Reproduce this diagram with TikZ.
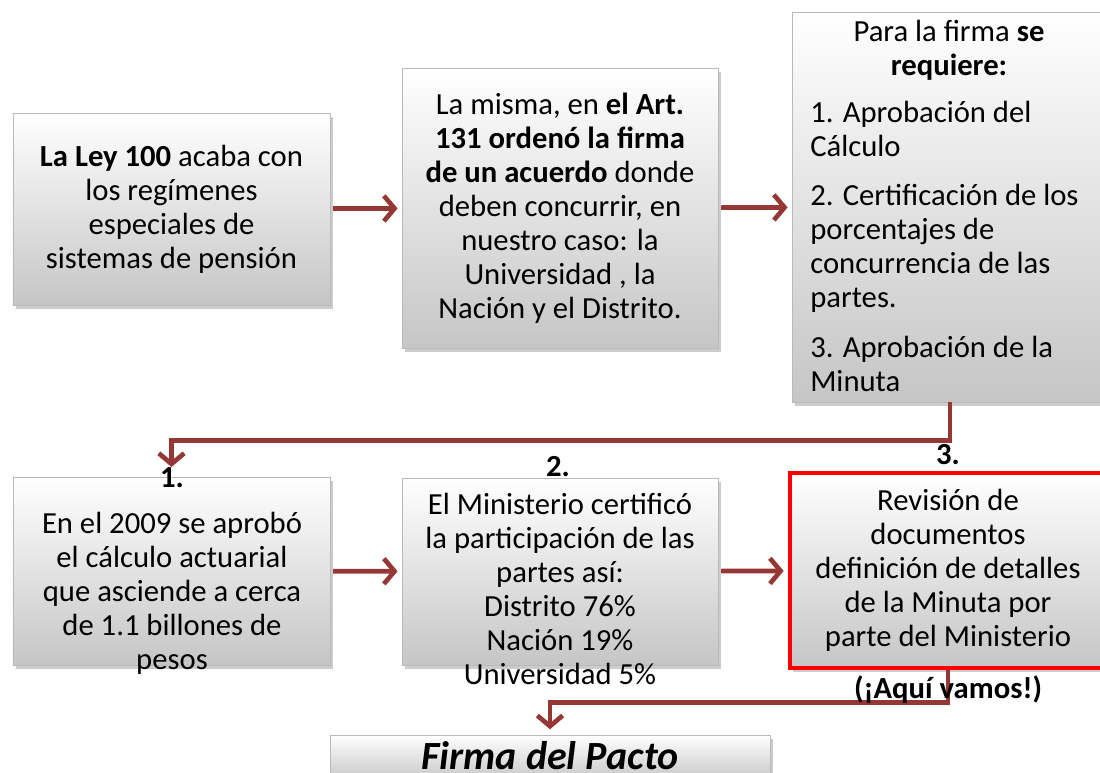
\documentclass[tikz,border=0pt]{standalone}
\usepackage{fontspec}
\setmainfont{Carlito}
\usetikzlibrary{arrows.meta,shadows}
\definecolor{flecha}{HTML}{953735}

\begin{document}
\begin{tikzpicture}[x=0.75pt, y=-0.75pt,
  caja/.style={draw=gray!55, line width=0.6pt, top color=white, bottom color=gray!45,
    drop shadow={opacity=0.4, shadow xshift=2pt, shadow yshift=-3pt}, inner sep=0pt},
  texto/.style={align=center, font=\fontsize{23}{25.5}\selectfont, inner sep=0pt},
  flujo/.style={draw=flecha, line width=3.5pt, -{Straight Barb[length=8pt,width=19pt]}},
  paso/.style={font=\fontsize{23}{25}\selectfont\bfseries, inner sep=0pt}]
\useasboundingbox (0,0) rectangle (1100,773);

% primera fila
\node[caja, texto, minimum width=237.8pt, minimum height=144pt] (ley) at (171.5,209)
  {\textbf{La Ley 100} acaba con\\ los regímenes\\ especiales de\\ sistemas de pensión};
\node[caja, texto, minimum width=237pt, minimum height=210pt] (art) at (560,208)
  {La misma, en \textbf{el Art.}\\ \textbf{131 ordenó la firma}\\ \textbf{de un acuerdo} donde\\ deben concurrir, en\\ nuestro caso: la\\ Universidad , la\\ Nación y el Distrito.};
\node[caja, minimum width=237pt, minimum height=292.5pt] (req) at (950,207) {};
\node[texto] (reqtit) at (949,50) {Para la firma \textbf{se}\\ \textbf{requiere:}};
\node[texto, align=left, anchor=north west] (reqlista) at (810,101)
  {1. Aprobación del\\ Cálculo\\[11.5pt]
   2. Certificación de los\\ porcentajes de\\ concurrencia de las\\ partes.\\[11.5pt]
   3. Aprobación de la\\ Minuta};

% segunda fila
\node[caja, minimum width=237.8pt, minimum height=141pt] (calc) at (171.5,571) {};
\node[texto] (calctxt) at (172,593)
  {En el 2009 se aprobó\\ el cálculo actuarial\\ que asciende a cerca\\ de 1.1 billones de\\ pesos};
\node[caja, minimum width=237pt, minimum height=140.3pt] (cert) at (560,571.5) {};
\node[texto] (certtxt) at (560,589)
  {El Ministerio certificó\\ la participación de las\\ partes así:\\ Distrito 76\%\\ Nación 19\%\\ Universidad 5\%};
\node[caja, texto, draw=red, line width=3.5pt, minimum width=237pt, minimum height=146pt] (rev) at (948,570.5)
  {Revisión de\\ documentos\\ definición de detalles\\ de la Minuta por\\ parte del Ministerio};

\node[caja, minimum width=330pt, minimum height=34.5pt] (pacto) at (550,758) {};
\node[inner sep=0pt, font=\fontsize{30}{32}\selectfont\bfseries\itshape] (pactotxt) at (550,756) {Firma del Pacto};

% conectores
\draw[flujo, shorten <=2pt, shorten >=3pt] (ley) -- (art);
\draw[flujo, shorten <=2pt, shorten >=3pt] (art) -- (req);
\draw[flujo, shorten <=2pt, shorten >=3pt] (calc) -- (cert);
\draw[flujo, shorten <=2pt, shorten >=3pt] (cert) -- (rev);
\coordinate (llegada) at (171.5,467);
\draw[flujo] (req.south) -- ++(0,38) -| (llegada);
\draw[flujo, shorten >=4pt] (rev.south) -- ++(0,32) -| (pacto.north);

% etiquetas
\node[paso] (uno) at (172,478) {1.};
\node[paso] (dos) at (558,467) {2.};
\node[paso] (tres) at (948,455) {3.};
\node[paso] (vamos) at (948,690) {(¡Aquí vamos!)};
\end{tikzpicture}
\end{document}
